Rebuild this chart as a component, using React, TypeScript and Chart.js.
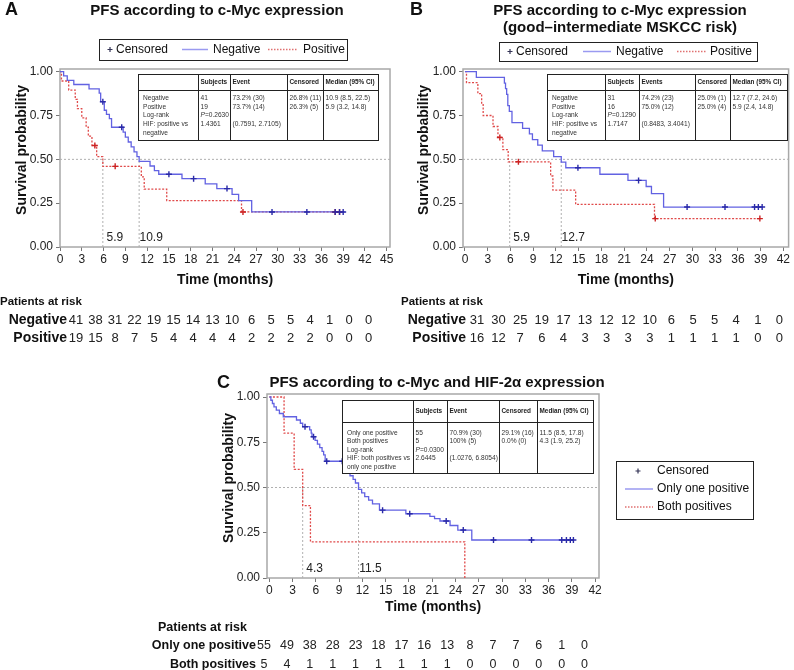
import React, { useEffect, useRef } from 'react';
import { Chart, registerables } from 'chart.js';
Chart.register(...registerables);

const FONT = '"Liberation Sans", Arial, Helvetica, sans-serif';
const NARROW = '"Liberation Sans Narrow", "Liberation Sans", Arial, sans-serif';

// ---------------- data ----------------
const Y_TICKS = [0, 0.25, 0.5, 0.75, 1];
const X_TICKS_A = [0, 3, 6, 9, 12, 15, 18, 21, 24, 27, 30, 33, 36, 39, 42, 45];
const X_TICKS_BC = [0, 3, 6, 9, 12, 15, 18, 21, 24, 27, 30, 33, 36, 39, 42];

// Panel A: c-Myc negative / positive
const A_NEG_T = [0, 0.5, 1.0, 1.9, 4.0, 5.4, 5.6, 6.1, 6.4, 6.8, 7.1, 8.7, 9.0, 9.4, 9.8, 10.2, 10.6, 10.9, 12.4, 13.0, 13.6, 16.8, 20.0, 21.6, 23.7, 24.6, 26.4, 39.2];
const A_NEG_S = [1, 0.976, 0.951, 0.927, 0.902, 0.878, 0.829, 0.78, 0.756, 0.732, 0.683, 0.655, 0.627, 0.599, 0.571, 0.543, 0.515, 0.488, 0.462, 0.436, 0.415, 0.39, 0.36, 0.333, 0.3, 0.265, 0.2, 0.2];
const A_NEG_CENS = [5.9, 8.5, 15.0, 18.4, 23.0, 29.2, 34.0, 37.9, 38.5, 39.0];
const A_POS_T = [0, 0.2, 1.2, 2.1, 2.4, 3.0, 3.6, 3.9, 4.4, 5.05, 5.9, 11.2, 11.6, 14.7, 25.0, 38.5];
const A_POS_S = [1, 0.947, 0.895, 0.842, 0.789, 0.737, 0.684, 0.632, 0.579, 0.515, 0.46, 0.4, 0.33, 0.265, 0.2, 0.2];
const A_POS_CENS = [4.8, 7.6, 25.2, 37.9, 38.5];
const A_MEDIANS = [5.9, 10.9];
const A_RISK_NEG = [41, 38, 31, 22, 19, 15, 14, 13, 10, 6, 5, 5, 4, 1, 0, 0];
const A_RISK_POS = [19, 15, 8, 7, 5, 4, 4, 4, 4, 2, 2, 2, 2, 0, 0, 0];
const A_TABLE_HEAD = ['', 'Subjects', 'Event', 'Censored', 'Median (95% CI)'];
const A_TABLE_ROWS = [
  ['Negative', '41', '73.2% (30)', '26.8% (11)', '10.9 (8.5, 22.5)'],
  ['Positive', '19', '73.7% (14)', '26.3% (5)', '5.9 (3.2, 14.8)'],
  ['Log-rank', 'P=0.2630', '', '', ''],
  ['HIF: positive vs', '1.4361', '(0.7591, 2.7105)', '', ''],
  ['negative', '', '', '', ''],
];

// Panel B: good-intermediate MSKCC risk
const B_NEG_T = [0, 1.5, 5.2, 5.35, 5.5, 5.65, 5.85, 6.2, 7.6, 8.5, 8.9, 9.6, 10.2, 11.7, 12.7, 13.3, 17.8, 21.5, 23.9, 24.6, 26.2, 39.3];
const B_NEG_S = [1, 0.968, 0.935, 0.903, 0.871, 0.806, 0.774, 0.71, 0.677, 0.645, 0.613, 0.581, 0.548, 0.516, 0.484, 0.452, 0.415, 0.38, 0.345, 0.305, 0.228, 0.228];
const B_NEG_CENS = [14.9, 22.9, 29.3, 34.3, 38.2, 38.7, 39.2];
const B_POS_T = [0, 0.2, 1.7, 2.2, 2.4, 3.7, 4.35, 5.0, 5.7, 11.3, 11.6, 14.6, 25.0, 38.9];
const B_POS_S = [1, 0.9375, 0.875, 0.8125, 0.75, 0.6875, 0.625, 0.556, 0.486, 0.405, 0.324, 0.243, 0.162, 0.162];
const B_POS_CENS = [4.6, 7.05, 25.1, 38.9];
const B_MEDIANS = [5.9, 12.7];
const B_RISK_NEG = [31, 30, 25, 19, 17, 13, 12, 12, 10, 6, 5, 5, 4, 1, 0];
const B_RISK_POS = [16, 12, 7, 6, 4, 3, 3, 3, 3, 1, 1, 1, 1, 0, 0];
const B_TABLE_HEAD = ['', 'Subjects', 'Events', 'Censored', 'Median (95% CI)'];
const B_TABLE_ROWS = [
  ['Negative', '31', '74.2% (23)', '25.0% (1)', '12.7 (7.2, 24.6)'],
  ['Positive', '16', '75.0% (12)', '25.0% (4)', '5.9 (2.4, 14.8)'],
  ['Log-rank', 'P=0.1290', '', '', ''],
  ['HIF: positive vs', '1.7147', '(0.8483, 3.4041)', '', ''],
  ['negative', '', '', '', ''],
];

// Panel C: c-Myc and HIF-2a
const C_ONE_T = [0, 0.2, 0.4, 0.6, 0.9, 1.3, 1.8, 3.5, 4.0, 4.3, 5.2, 5.4, 5.5, 5.9, 6.2, 6.5, 6.8, 7.0, 7.2, 9.6, 9.8, 10.1, 10.4, 10.8, 11.1, 11.5, 11.9, 12.3, 12.8, 13.3, 14.2, 17.6, 20.7, 21.3, 22.0, 23.3, 24.3, 26.1, 39.3];
const C_ONE_S = [1, 0.982, 0.964, 0.945, 0.927, 0.909, 0.891, 0.873, 0.855, 0.836, 0.818, 0.8, 0.78, 0.76, 0.74, 0.72, 0.7, 0.68, 0.645, 0.625, 0.605, 0.585, 0.565, 0.545, 0.525, 0.49, 0.47, 0.45, 0.43, 0.41, 0.375, 0.355, 0.34, 0.328, 0.315, 0.29, 0.265, 0.21, 0.21];
const C_ONE_CENS = [4.6, 5.7, 7.4, 9.4, 14.6, 18.1, 22.8, 25.0, 28.9, 33.8, 37.7, 38.3, 38.8, 39.2];
const C_BOTH_T = [0, 1.9, 3.2, 4.3, 5.3, 25.2];
const C_BOTH_S = [1, 0.8, 0.6, 0.4, 0.2, 0];
const C_BOTH_CENS: number[] = [];
const C_MEDIANS = [4.3, 11.5];
const C_RISK_ONE = [55, 49, 38, 28, 23, 18, 17, 16, 13, 8, 7, 7, 6, 1, 0];
const C_RISK_BOTH = [5, 4, 1, 1, 1, 1, 1, 1, 1, 0, 0, 0, 0, 0, 0];
const C_TABLE_HEAD = ['', 'Subjects', 'Event', 'Censored', 'Median (95% CI)'];
const C_TABLE_ROWS = [
  ['Only one positive', '55', '70.9% (30)', '29.1% (16)', '11.5 (8.5, 17.8)'],
  ['Both positives', '5', '100% (5)', '0.0% (0)', '4.3 (1.9, 25.2)'],
  ['Log-rank', 'P=0.0300', '', '', ''],
  ['HIF: both positives vs', '2.6445', '(1.0276, 6.8054)', '', ''],
  ['only one positive', '', '', '', ''],
];

// ---------------- styles ----------------
const BLUE = '#6262e2';
const BLUE_MARK = '#2a2aa8';
const RED = '#e04a4a';
const RED_MARK = '#cc2222';
const REF = '#b0b0b0';
const LEG_BLUE = '#9a9af0';
const LEG_RED = '#e07070';
const Y_W = 60;
const X_H = 24;

function survAt(T: number[], S: number[], t: number) {
  let s = S[0];
  for (let i = 0; i < T.length; i++) if (T[i] <= t) s = S[i];
  return s;
}

function txt(ctx: any, s: string, x: number, y: number, font: string, color = '#111', align = 'left', sx = 1) {
  ctx.save();
  ctx.font = font;
  ctx.fillStyle = color;
  ctx.textAlign = align;
  ctx.textBaseline = 'middle';
  if (sx !== 1) {
    ctx.translate(x, y);
    ctx.scale(sx, 1);
    ctx.fillText(s, 0, 0);
  } else ctx.fillText(s, x, y);
  ctx.restore();
}

function drawTable(ctx: any, t: any) {
  ctx.save();
  ctx.fillStyle = '#fff';
  ctx.fillRect(t.x1, t.y1, t.x2 - t.x1, t.y2 - t.y1);
  ctx.strokeStyle = '#222';
  ctx.lineWidth = 1;
  ctx.strokeRect(t.x1 + 0.5, t.y1 + 0.5, t.x2 - t.x1, t.y2 - t.y1);
  ctx.beginPath();
  ctx.moveTo(t.x1, t.headY2 + 0.5);
  ctx.lineTo(t.x2, t.headY2 + 0.5);
  t.cols.forEach((c: number) => {
    ctx.moveTo(c + 0.5, t.y1);
    ctx.lineTo(c + 0.5, t.y2);
  });
  ctx.stroke();
  const starts = [t.x1, ...t.cols];
  const hf = 'bold 6.4px ' + FONT;
  const bf = '6.6px ' + FONT;
  t.head.forEach((h: string, i: number) => {
    if (h) txt(ctx, h, starts[i] + 2.5, (t.y1 + t.headY2) / 2 + 0.5, hf, '#222');
  });
  t.rows.forEach((row: string[], r: number) => {
    const y = t.rowY0 + r * t.rowDy;
    row.forEach((cell: string, c: number) => {
      if (!cell) return;
      const x = starts[c] + (c === 0 ? 5 : 2.5);
      if (cell.startsWith('P=')) {
        ctx.save();
        ctx.font = 'italic ' + bf;
        const w = ctx.measureText('P').width;
        ctx.restore();
        txt(ctx, 'P', x, y, 'italic ' + bf, '#333');
        txt(ctx, cell.slice(1), x + w, y, bf, '#333');
      } else txt(ctx, cell, x, y, bf, '#333');
    });
  });
  ctx.restore();
}

function drawCross(ctx: any, x: number, y: number, r: number, color: string) {
  ctx.save();
  ctx.strokeStyle = color;
  ctx.lineWidth = 1.2;
  ctx.beginPath();
  ctx.moveTo(x - r, y);
  ctx.lineTo(x + r, y);
  ctx.moveTo(x, y - r);
  ctx.lineTo(x, y + r);
  ctx.stroke();
  ctx.restore();
}

function drawLegend(ctx: any, lg: any) {
  ctx.save();
  ctx.fillStyle = '#fff';
  const [x1, y1, x2, y2] = lg.box;
  ctx.fillRect(x1, y1, x2 - x1, y2 - y1);
  ctx.strokeStyle = '#222';
  ctx.lineWidth = 1;
  ctx.strokeRect(x1 + 0.5, y1 + 0.5, x2 - x1, y2 - y1);
  lg.items.forEach((it: any) => {
    if (it.kind === 'cens') drawCross(ctx, it.x1, it.y, 2.5, '#333355');
    else {
      ctx.save();
      ctx.strokeStyle = it.color;
      ctx.lineWidth = 1.5;
      if (it.kind === 'dot') ctx.setLineDash([1.5, 1.5]);
      ctx.beginPath();
      ctx.moveTo(it.x1, it.y);
      ctx.lineTo(it.x2, it.y);
      ctx.stroke();
      ctx.restore();
    }
    txt(ctx, it.label, it.tx, it.y, '12px ' + FONT, '#111');
  });
  ctx.restore();
}

function makeDecor(p: any) {
  return {
    id: 'decor' + p.key,
    beforeDatasetsDraw(chart: any) {
      const { ctx, chartArea: a } = chart;
      ctx.save();
      ctx.strokeStyle = '#a8a8a8';
      ctx.lineWidth = 1.5;
      ctx.strokeRect(a.left, a.top, a.right - a.left, a.bottom - a.top);
      ctx.restore();
    },
    afterDatasetsDraw(chart: any) {
      const { ctx, chartArea: a } = chart;
      const xs = chart.scales.x;
      drawTable(ctx, p.table);
      p.medians.forEach((m: number) => {
        txt(ctx, m.toFixed(1), xs.getPixelForValue(m) + 12, a.bottom - 9, '12px ' + FONT, '#222', 'center');
      });
    },
    afterDraw(chart: any) {
      const { ctx, chartArea: a } = chart;
      txt(ctx, p.letter.text, p.letter.x, p.letter.y, 'bold 18px ' + FONT, '#111');
      p.title.lines.forEach((l: string, i: number) => txt(ctx, l, p.title.x, p.title.ys[i], 'bold 15px ' + FONT, '#111', 'center'));
      drawLegend(ctx, p.legend);
      ctx.save();
      ctx.translate(p.yTitleX, (a.top + a.bottom) / 2 - 8);
      ctx.rotate(-Math.PI / 2);
      txt(ctx, 'Survival probability', 0, 0, 'bold 14px ' + FONT, '#111', 'center');
      ctx.restore();
      txt(ctx, 'Time (months)', (a.left + a.right) / 2, p.xTitleY, 'bold 14px ' + FONT, '#111', 'center');
      const r = p.risk;
      txt(ctx, 'Patients at risk', r.headX, r.headY, r.headFont, '#111');
      r.rows.forEach((row: any) => {
        txt(ctx, row.label, r.labelRight, row.y, r.labelFont, '#111', 'right');
        row.vals.forEach((v: number, i: number) => txt(ctx, String(v), r.x0 + i * r.dx, row.y, r.numFont, '#222', 'center'));
      });
    },
  };
}

function buildChart(canvas: HTMLCanvasElement, p: any) {
  const refLines = [
    { data: [{ x: p.xmin, y: 0.5 }, { x: p.xmax, y: 0.5 }] },
    ...p.medians.map((m: number) => ({ data: [{ x: m, y: 0 }, { x: m, y: 0.5 }] })),
  ].map((d) => ({ ...d, borderColor: REF, borderWidth: 1, borderDash: [2, 2], pointRadius: 0, order: 10 }));
  const curves: any[] = [];
  p.series.forEach((s: any) => {
    curves.push({
      data: s.T.map((t: number, i: number) => ({ x: t, y: s.S[i] })),
      stepped: 'before',
      borderColor: s.color,
      borderWidth: 1.3,
      borderDash: s.dash ? [2, 1.6] : [],
      pointRadius: 0,
      order: 2,
    });
    curves.push({
      data: s.C.map((t: number) => ({ x: t, y: survAt(s.T, s.S, t) })),
      showLine: false,
      pointStyle: 'cross',
      pointRadius: 3,
      borderColor: s.mark,
      borderWidth: 1.4,
      order: 1,
    });
  });
  const grid = { drawOnChartArea: false, drawTicks: true, tickLength: 4, color: '#777' };
  const tickFont = { family: FONT, size: 12 };
  return new Chart(canvas, {
    type: 'line',
    data: { datasets: [...refLines, ...curves] },
    options: {
      responsive: false,
      animation: false,
      devicePixelRatio: 1,
      events: [],
      layout: {
        padding: {
          left: p.plot.left - Y_W,
          top: p.plot.top,
          right: 794 - p.plot.right,
          bottom: 670 - p.plot.bottom - X_H,
        },
      },
      plugins: { legend: { display: false }, tooltip: { enabled: false }, title: { display: false } },
      scales: {
        x: {
          type: 'linear',
          min: p.xmin,
          max: p.xmax,
          afterBuildTicks: (s: any) => {
            s.ticks = p.xTicks.map((v: number) => ({ value: v }));
          },
          afterFit: (s: any) => {
            s.height = X_H;
            s.paddingLeft = 0;
            s.paddingRight = 0;
          },
          ticks: { font: tickFont, color: '#222', padding: 1, maxRotation: 0, autoSkip: false },
          grid,
          border: { display: false },
        },
        y: {
          type: 'linear',
          min: 0,
          max: p.ymax,
          afterBuildTicks: (s: any) => {
            s.ticks = Y_TICKS.map((v) => ({ value: v }));
          },
          afterFit: (s: any) => {
            s.width = Y_W;
            s.paddingTop = 0;
            s.paddingBottom = 0;
          },
          ticks: { font: tickFont, color: '#222', padding: 3, callback: (v: any) => Number(v).toFixed(2) },
          grid,
          border: { display: false },
        },
      },
    },
    plugins: [makeDecor(p)],
  } as any);
}

const PANEL_A = {
  key: 'A',
  plot: { left: 60, right: 390, top: 69, bottom: 247 },
  xmin: 0,
  xmax: 45.45,
  ymax: 1.0154,
  xTicks: X_TICKS_A,
  medians: A_MEDIANS,
  series: [
    { T: A_NEG_T, S: A_NEG_S, C: A_NEG_CENS, color: BLUE, mark: BLUE_MARK, dash: false },
    { T: A_POS_T, S: A_POS_S, C: A_POS_CENS, color: RED, mark: RED_MARK, dash: true },
  ],
  letter: { text: 'A', x: 5, y: 10 },
  title: { lines: ['PFS according to c-Myc expression'], x: 217, ys: [11] },
  legend: {
    box: [99, 39, 347, 60],
    items: [
      { kind: 'cens', x1: 110, y: 49.5, tx: 116, label: 'Censored' },
      { kind: 'solid', color: LEG_BLUE, x1: 182, x2: 208, y: 49.5, tx: 213, label: 'Negative' },
      { kind: 'dot', color: LEG_RED, x1: 268, x2: 298, y: 49.5, tx: 303, label: 'Positive' },
    ],
  },
  table: { x1: 138, y1: 74, x2: 378, y2: 140, cols: [198, 230, 287, 323], headY2: 90, rowY0: 98, rowDy: 8.7, head: A_TABLE_HEAD, rows: A_TABLE_ROWS },
  yTitleX: 22,
  xTitleY: 280,
  risk: {
    headX: 0, headY: 302, headFont: 'bold 11.5px ' + FONT,
    labelRight: 67, labelFont: 'bold 14px ' + FONT, numFont: '13px ' + NARROW,
    x0: 76, dx: 19.5,
    rows: [
      { label: 'Negative', vals: A_RISK_NEG, y: 320 },
      { label: 'Positive', vals: A_RISK_POS, y: 338 },
    ],
  },
};

const PANEL_B = {
  key: 'B',
  plot: { left: 463, right: 792, top: 69, bottom: 247 },
  xmin: -0.26,
  xmax: 42.69,
  ymax: 1.0154,
  xTicks: X_TICKS_BC,
  medians: B_MEDIANS,
  series: [
    { T: B_NEG_T, S: B_NEG_S, C: B_NEG_CENS, color: BLUE, mark: BLUE_MARK, dash: false },
    { T: B_POS_T, S: B_POS_S, C: B_POS_CENS, color: RED, mark: RED_MARK, dash: true },
  ],
  letter: { text: 'B', x: 410, y: 10 },
  title: { lines: ['PFS according to c-Myc expression', '(good\u2013intermediate MSKCC risk)'], x: 620, ys: [11, 28] },
  legend: {
    box: [499, 42, 757, 61],
    items: [
      { kind: 'cens', x1: 510, y: 51.5, tx: 516, label: 'Censored' },
      { kind: 'solid', color: LEG_BLUE, x1: 583, x2: 611, y: 51.5, tx: 616, label: 'Negative' },
      { kind: 'dot', color: LEG_RED, x1: 677, x2: 706, y: 51.5, tx: 710, label: 'Positive' },
    ],
  },
  table: { x1: 547, y1: 74, x2: 787, y2: 140, cols: [605, 639, 695, 730], headY2: 90, rowY0: 98, rowDy: 8.7, head: B_TABLE_HEAD, rows: B_TABLE_ROWS },
  yTitleX: 424,
  xTitleY: 280,
  risk: {
    headX: 401, headY: 302, headFont: 'bold 11.5px ' + FONT,
    labelRight: 466, labelFont: 'bold 14px ' + FONT, numFont: '13px ' + NARROW,
    x0: 477, dx: 21.6,
    rows: [
      { label: 'Negative', vals: B_RISK_NEG, y: 320 },
      { label: 'Positive', vals: B_RISK_POS, y: 338 },
    ],
  },
};

const PANEL_C = {
  key: 'C',
  plot: { left: 267, right: 599, top: 394, bottom: 578 },
  xmin: -0.3,
  xmax: 42.5,
  ymax: 1.0166,
  xTicks: X_TICKS_BC,
  medians: C_MEDIANS,
  series: [
    { T: C_ONE_T, S: C_ONE_S, C: C_ONE_CENS, color: BLUE, mark: BLUE_MARK, dash: false },
    { T: C_BOTH_T, S: C_BOTH_S, C: C_BOTH_CENS, color: RED, mark: RED_MARK, dash: true },
  ],
  letter: { text: 'C', x: 217, y: 383 },
  title: { lines: ['PFS according to c-Myc and HIF-2\u03b1 expression'], x: 437, ys: [383] },
  legend: {
    box: [616, 461, 753, 519],
    items: [
      { kind: 'cens', x1: 638, y: 471, tx: 657, label: 'Censored' },
      { kind: 'solid', color: LEG_BLUE, x1: 625, x2: 653, y: 489, tx: 657, label: 'Only one positive' },
      { kind: 'dot', color: LEG_RED, x1: 625, x2: 653, y: 507, tx: 657, label: 'Both positives' },
    ],
  },
  table: { x1: 342, y1: 400, x2: 593, y2: 473, cols: [413, 447, 499, 537], headY2: 422, rowY0: 433, rowDy: 8.5, head: C_TABLE_HEAD, rows: C_TABLE_ROWS },
  yTitleX: 229,
  xTitleY: 607,
  risk: {
    headX: 158, headY: 628, headFont: 'bold 12.5px ' + FONT,
    labelRight: 256, labelFont: 'bold 12.5px ' + FONT, numFont: '12.5px ' + NARROW,
    x0: 264, dx: 22.9,
    rows: [
      { label: 'Only one positive', vals: C_RISK_ONE, y: 646 },
      { label: 'Both positives', vals: C_RISK_BOTH, y: 665 },
    ],
  },
};

export default function App() {
  const refA = useRef<HTMLCanvasElement>(null);
  const refB = useRef<HTMLCanvasElement>(null);
  const refC = useRef<HTMLCanvasElement>(null);
  useEffect(() => {
    const charts = [
      buildChart(refA.current as HTMLCanvasElement, PANEL_A),
      buildChart(refB.current as HTMLCanvasElement, PANEL_B),
      buildChart(refC.current as HTMLCanvasElement, PANEL_C),
    ];
    return () => charts.forEach((c) => c.destroy());
  }, []);
  const cs: any = { position: 'absolute', left: 0, top: 0, width: 794, height: 670 };
  return (
    <div style={{ position: 'absolute', left: 0, top: 0, width: 794, height: 670, background: '#fff', overflow: 'hidden' }}>
      <canvas ref={refA} width={794} height={670} style={cs} />
      <canvas ref={refB} width={794} height={670} style={cs} />
      <canvas ref={refC} width={794} height={670} style={cs} />
    </div>
  );
}
